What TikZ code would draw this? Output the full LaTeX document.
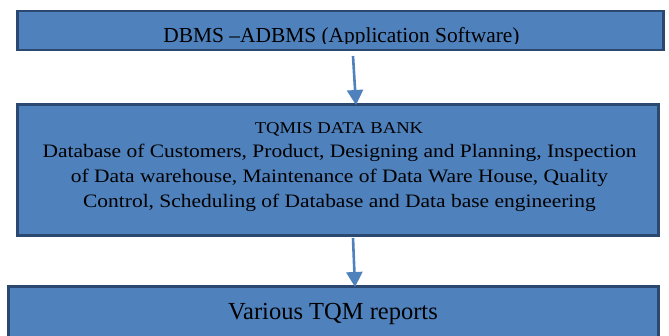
\documentclass[tikz,border=0pt]{standalone}
\usepackage{fontspec}
\setmainfont{Liberation Serif}
\usetikzlibrary{arrows.meta}
\definecolor{boxfill}{HTML}{4F81BD}
\definecolor{boxline}{HTML}{2B4870}
\definecolor{arrowcol}{HTML}{4F81BD}
\tikzset{
  box/.style={draw=boxline, fill=boxfill, line width=2.6pt, rectangle, inner sep=0pt},
  lbl/.style={anchor=base, inner sep=0pt, text=black},
  widelbl/.style={lbl, xscale=1.13, transform shape},
  conn/.style={draw=arrowcol, line width=2.6pt, -{Triangle[width=16pt,length=15pt]}}
}
\begin{document}
\begin{tikzpicture}[x=1pt,y=-1pt]
\useasboundingbox (0,0) rectangle (669,336);
% boxes
\node[box, minimum width=646.4pt, minimum height=39pt] (b1) at (340.5,30.5) {};
\node[box, minimum width=641.4pt, minimum height=131.4pt] (b2) at (338,170) {};
\node[box, minimum width=650.4pt, minimum height=70pt] (b3) at (333.5,321.3) {};
% box 1 text (clipped at the bottom as in the source)
\begin{scope}
\clip (18.6,12.3) rectangle (662.4,44);
\node[lbl, font=\fontsize{21.4}{25}\selectfont] (t1) at (341.5,42.3) {DBMS –ADBMS (Application Software)};
\end{scope}
% box 2 text
\node[widelbl, font=\fontsize{16.5}{21}\selectfont] (t2) at (339,134) {TQMIS DATA BANK};
\node[widelbl, font=\fontsize{19}{25}\selectfont] (t3) at (339.5,158) {Database of Customers, Product, Designing and Planning, Inspection};
\node[widelbl, font=\fontsize{19}{25}\selectfont] (t4) at (339.5,183) {of Data warehouse, Maintenance of Data Ware House, Quality};
\node[widelbl, font=\fontsize{19}{25}\selectfont] (t5) at (339.5,208) {Control, Scheduling of Database and Data base engineering};
% box 3 text
\node[lbl, font=\fontsize{24.5}{28}\selectfont] (t6) at (333,320) {Various TQM reports};
% connectors
\coordinate (a1s) at (353,56);
\coordinate (a1e) at (356,105);
\coordinate (a2s) at (353,238);
\coordinate (a2e) at (355,287);
\draw[conn] (a1s) -- (a1e);
\draw[conn] (a2s) -- (a2e);
\end{tikzpicture}
\end{document}
